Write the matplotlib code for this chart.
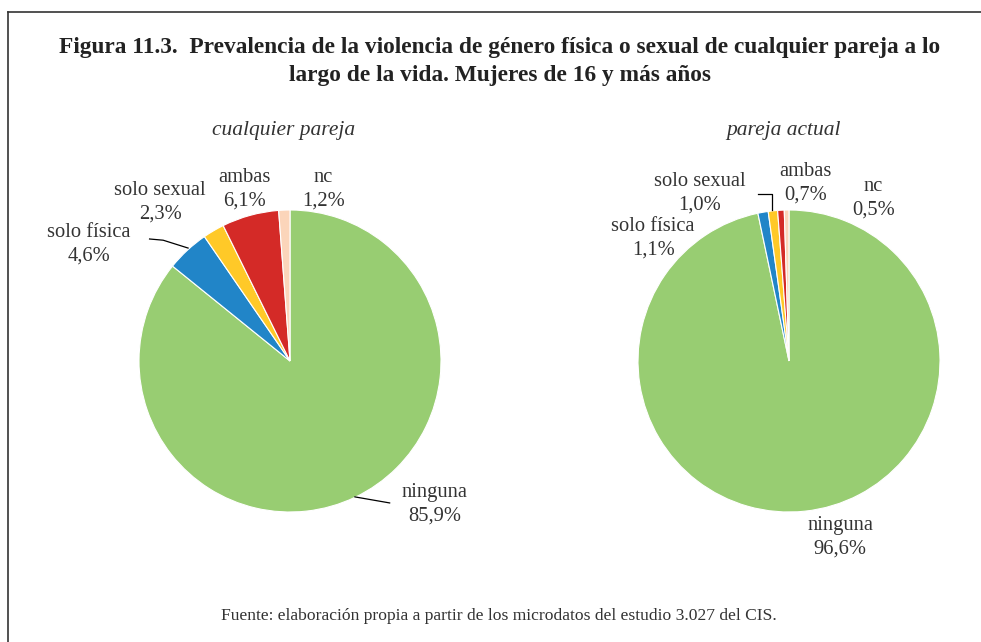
import matplotlib
matplotlib.use('Agg')
import matplotlib.pyplot as plt
from matplotlib.lines import Line2D

plt.rcParams['font.family'] = ['Liberation Serif', 'DejaVu Serif']

# datos de la figura
categorias = ['ninguna', 'solo física', 'solo sexual', 'ambas', 'nc']
cualquier_pareja = [85.9, 4.6, 2.3, 6.1, 1.2]
pareja_actual = [96.6, 1.1, 1.0, 0.7, 0.5]
colores = ['#98CD72', '#2185C8', '#FFC928', '#D42A27', '#FBD5BA']

# posiciones de etiquetas (en unidades del radio)
pos_izq = [(0.96, -0.95), (-1.33, 0.77), (-0.86, 1.05), (-0.30, 1.14), (0.22, 1.14)]
pos_der = [(0.34, -1.17), (-0.90, 0.81), (-0.59, 1.11), (0.11, 1.18), (0.56, 1.08)]

W, H = 981, 642
fig = plt.figure(figsize=(W / 100, H / 100), dpi=100)
txt = '#333333'


def pie_axes(cx, cy, r):
    ax = fig.add_axes([(cx - r) / W, 1 - (cy + r) / H, 2 * r / W, 2 * r / H])
    return ax


def fmt(v):
    return f'{v:.1f}%'.replace('.', ',')


def dibujar(ax, valores, posiciones):
    ax.pie(valores, colors=colores, startangle=90, counterclock=False,
           wedgeprops=dict(edgecolor='white', linewidth=0.8), radius=1, frame=True)
    ax.set_xlim(-1, 1)
    ax.set_ylim(-1, 1)
    ax.axis('off')
    for cat, v, (x, y) in zip(categorias, valores, posiciones):
        ax.text(x, y, f'{cat}\n{fmt(v)}', ha='center', va='center', fontsize=14.8,
                color=txt, linespacing=1.32, clip_on=False)


ax1 = pie_axes(290, 361, 151)
dibujar(ax1, cualquier_pareja, pos_izq)
ax1.plot([0.43, 0.66], [-0.90, -0.94], color='black', lw=0.9, clip_on=False)
ax1.plot([-0.93, -0.84, -0.675], [0.808, 0.80, 0.748], color='black', lw=0.9, clip_on=False)

ax2 = pie_axes(789, 361, 151)
dibujar(ax2, pareja_actual, pos_der)
ax2.plot([-0.205, -0.113, -0.113], [1.106, 1.106, 1.0], color='black', lw=0.9, clip_on=False)

# títulos
fig.text(500 / W, 1 - 48 / H,
         'Figura 11.3.  Prevalencia de la violencia de género física o sexual de cualquier pareja a lo',
         ha='center', va='center', fontsize=16.8, fontweight='bold', color='#222222')
fig.text(500 / W, 1 - 75 / H, 'largo de la vida. Mujeres de 16 y más años',
         ha='center', va='center', fontsize=16.8, fontweight='bold', color='#222222')
fig.text(284 / W, 1 - 131 / H, 'cualquier pareja', ha='center', va='center',
         fontsize=15.5, style='italic', color=txt)
fig.text(784 / W, 1 - 131 / H, 'pareja actual', ha='center', va='center',
         fontsize=15.5, style='italic', color=txt)
fig.text(499 / W, 1 - 616 / H,
         'Fuente: elaboración propia a partir de los microdatos del estudio 3.027 del CIS.',
         ha='center', va='center', fontsize=12.6, color=txt)

# marco (solo arriba e izquierda visibles)
fig.add_artist(Line2D([8 / W, 1], [1 - 12 / H, 1 - 12 / H], color='#333333', lw=1.2))
fig.add_artist(Line2D([8 / W, 8 / W], [0, 1 - 12 / H], color='#333333', lw=1.2))

fig.savefig('out.png', dpi=100)
